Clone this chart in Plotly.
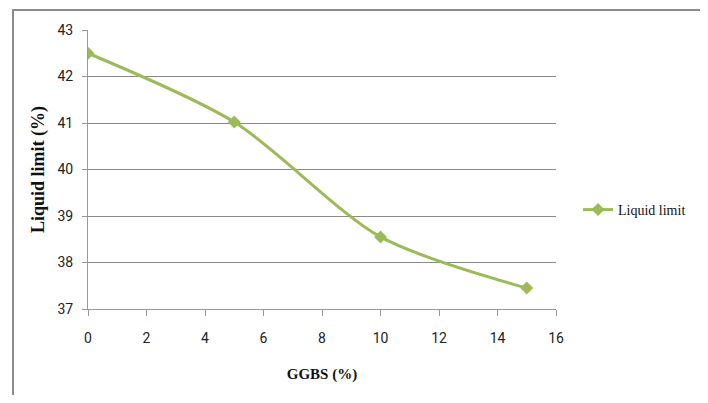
import plotly.graph_objects as go

ggbs = [0, 5, 10, 15]
liquid_limit = [42.5, 41.02, 38.55, 37.45]
series_name = "Liquid limit"

# page has 8px body margin: figure origin at (8, 8) in window pixels
OX, OY = 8, 8
W, H = 700, 387
L = 88 - OX
T = 30 - OY
R = (OX + W) - 556
B = (OY + H) - 309
pw, ph = W - L - R, H - T - B

def px_x(x):
    return (x - OX - L) / pw

def px_y(y):
    return (OY + H - B - y) / ph

green = "#9BBB59"
tickfont = dict(family="Roboto, Liberation Sans, sans-serif", size=14, color="#222")
serif = "Liberation Serif, Times New Roman, serif"

fig = go.Figure()
fig.add_trace(go.Scatter(
    x=ggbs, y=liquid_limit, name=series_name,
    mode="lines+markers",
    line=dict(color=green, width=3, shape="spline", smoothing=0.8),
    marker=dict(symbol="diamond", size=10, color=green),
))

fig.update_layout(
    width=W, height=H,
    margin=dict(l=L, r=R, t=T, b=B, pad=0),
    paper_bgcolor="white", plot_bgcolor="white",
    showlegend=True,
    legend=dict(x=px_x(578), y=px_y(210), xanchor="left", yanchor="middle",
                font=dict(family=serif, size=14, color="#111"),
                bgcolor="rgba(0,0,0,0)", itemwidth=30),
    xaxis=dict(range=[0, 16], tickvals=[0, 2, 4, 6, 8, 10, 12, 14, 16],
               showgrid=False, zeroline=False, showline=True, linecolor="#999", linewidth=1,
               ticks="outside", ticklen=6, tickcolor="#999", tickfont=tickfont,
               ticklabelstandoff=10,
               title=dict(text="<b>GGBS (%)</b>", font=dict(family=serif, size=15, color="#111"), standoff=23)),
    yaxis=dict(range=[37, 43], tickvals=[37, 38, 39, 40, 41, 42, 43],
               showgrid=True, gridcolor="#8a8a8a", gridwidth=1, zeroline=False,
               showline=True, linecolor="#999", linewidth=1,
               ticks="outside", ticklen=5, tickcolor="#999", tickfont=tickfont,
               ticklabelstandoff=6,
               title=dict(text="<b>Liquid limit (%)</b>", font=dict(family=serif, size=18, color="#111"), standoff=8)),
)

fig.add_shape(type="rect", xref="paper", yref="paper",
              x0=px_x(13), x1=px_x(703), y0=px_y(430), y1=px_y(10),
              line=dict(color="#8c8c8c", width=2), fillcolor="rgba(0,0,0,0)", layer="below")

fig.write_html("out.html")
